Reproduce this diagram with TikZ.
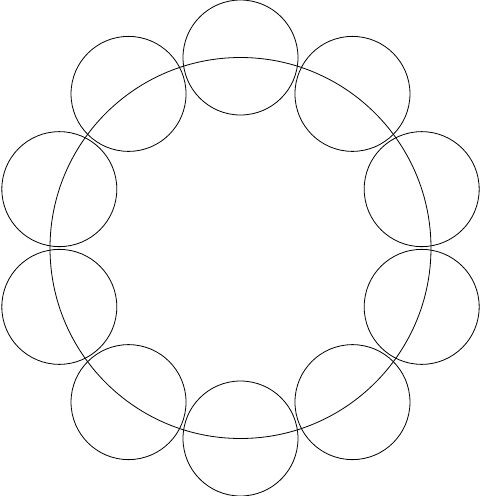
\documentclass[tikz,border=0pt]{standalone}
\usetikzlibrary{calc}
\begin{document}
\begin{tikzpicture}[x=1pt,y=-1pt,
  ring/.style={draw,circle,inner sep=0pt,line width=0.8pt}]
\useasboundingbox (0,0) rectangle (481,496);
\coordinate (c) at (240.5,248);
\node[ring,minimum size=381pt] (big) at (c) {};
\foreach \i in {0,...,9}{
  \node[ring,minimum size=115pt] (s\i) at ($(c)+({190.5*cos(90-36*\i)},{-190.5*sin(90-36*\i)})$) {};
}
\end{tikzpicture}
\end{document}
